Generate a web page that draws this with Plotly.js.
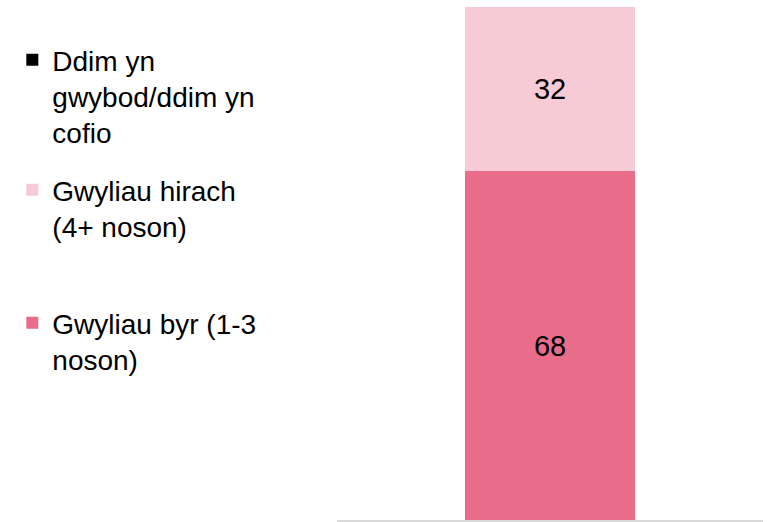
<!DOCTYPE html>
<html>
<head>
<meta charset="utf-8">
<script src="https://cdn.plot.ly/plotly-3.0.1.min.js"></script>
<style>html,body{margin:0;padding:0;background:#fff;}#chart{width:769px;height:522px;}</style>
</head>
<body>
<div id="chart"></div>
<script>
// Data
const categories = [""];
const seriesNames = ["Gwyliau byr (1-3<br>noson)", "Gwyliau hirach<br>(4+ noson)", "Ddim yn<br>gwybod/ddim yn<br>cofio"];
const byrValues = [68];
const hirachValues = [32];
const ddimValues = [0];
const seriesColors = ["#E96C8B", "#F7CBD6", "#000000"];

const FONT = "Arial, 'Liberation Sans', sans-serif";
const valueSets = [byrValues, hirachValues, ddimValues];
const legendIds = ["legend3", "legend2", "legend"];

const traces = valueSets.map((vals, i) => ({
  type: "bar",
  x: categories,
  y: vals,
  name: seriesNames[i],
  legend: legendIds[i],
  marker: { color: seriesColors[i], line: { width: 0 } },
  width: 0.4,
  text: vals.map(v => v === 0 ? "" : String(v)),
  textposition: "inside",
  insidetextanchor: "middle",
  textangle: 0,
  constraintext: "none",
  textfont: { family: FONT, size: 29, color: "#000000" },
  hoverinfo: "skip"
}));

const legendBase = {
  xref: "container", yref: "container",
  xanchor: "left", yanchor: "top",
  x: 0.016,
  font: { family: FONT, size: 28, color: "#000000" },
  bgcolor: "rgba(0,0,0,0)",
  valign: "top",
  itemclick: false, itemdoubleclick: false
};

const layout = {
  width: 769, height: 522,
  margin: { l: 337, r: 6, t: 7, b: 2 },
  paper_bgcolor: "#ffffff",
  plot_bgcolor: "#ffffff",
  barmode: "stack",
  showlegend: true,
  legend: Object.assign({}, legendBase, { y: 1 - 35/522 }),
  legend2: Object.assign({}, legendBase, { y: 1 - 165/522 }),
  legend3: Object.assign({}, legendBase, { y: 1 - 298/522 }),
  xaxis: {
    range: [-0.5, 0.5],
    showticklabels: false, ticks: "",
    showgrid: false, zeroline: false,
    showline: true, linecolor: "#D9D9D9", linewidth: 2,
    fixedrange: true
  },
  yaxis: {
    range: [0, 100],
    visible: false, showgrid: false, zeroline: false,
    fixedrange: true
  },
  font: { family: FONT, color: "#000000" }
};

Plotly.newPlot("chart", traces, layout, { displayModeBar: false, staticPlot: true });
</script>
</body>
</html>
